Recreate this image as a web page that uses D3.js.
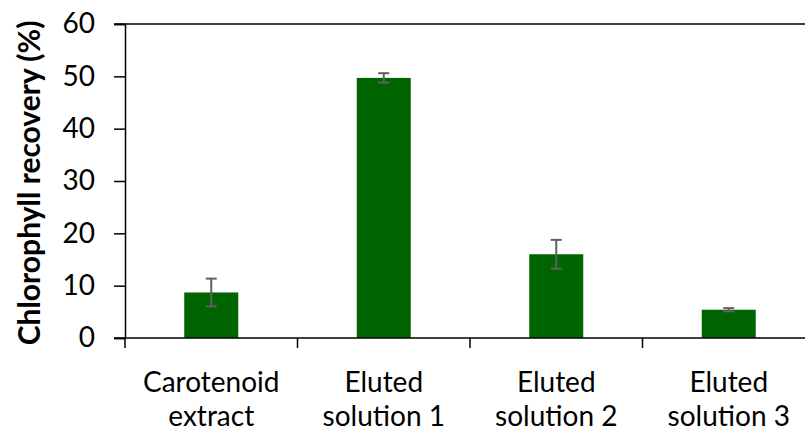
<!DOCTYPE html>
<html>
<head>
<meta charset="utf-8">
<script src="https://cdn.jsdelivr.net/npm/d3@7"></script>
<style>
  html, body { margin: 0; padding: 0; background: #fff; }
  svg { display: block; font-family: Lato, "Open Sans", sans-serif; }
</style>
</head>
<body>
<svg id="chart" width="805" height="432"></svg>
<script>
// Chlorophyll recovery per fraction (mean ± error)
const categories = [["Carotenoid", "extract"], ["Eluted", "solution 1"], ["Eluted", "solution 2"], ["Eluted", "solution 3"]];
const recovery = [8.7, 49.7, 16.0, 5.4];
const errors = [2.65, 0.9, 2.75, 0.3];
const yTicks = [0, 10, 20, 30, 40, 50, 60];

const svg = d3.select("#chart");
const plotLeft = 125, plotRight = 815, plotTop = 24, plotBottom = 338;

const x = d3.scaleBand()
  .domain(d3.range(categories.length))
  .range([plotLeft, plotRight])
  .paddingInner(0.687)
  .paddingOuter(0.3435);

const band = d3.scaleBand().domain(d3.range(categories.length)).range([plotLeft, plotRight]);

const y = d3.scaleLinear().domain([0, 60]).range([plotBottom, plotTop]);

// top border of the plot area
svg.append("line")
  .attr("x1", plotLeft - 11).attr("x2", 805)
  .attr("y1", y(60)).attr("y2", y(60))
  .attr("stroke", "#000").attr("stroke-width", 1.5);

// bars
svg.append("g").selectAll("rect")
  .data(recovery)
  .join("rect")
  .attr("x", (d, i) => x(i))
  .attr("width", x.bandwidth())
  .attr("y", d => y(d))
  .attr("height", d => y(0) - y(d))
  .attr("fill", "#006400");

// error bars
const eg = svg.append("g").attr("stroke", "#606060").attr("stroke-width", 2);
recovery.forEach((v, i) => {
  const cx = x(i) + x.bandwidth() / 2;
  const hi = y(v + errors[i]), lo = y(v - errors[i]);
  eg.append("line").attr("x1", cx).attr("x2", cx).attr("y1", hi).attr("y2", lo);
  eg.append("line").attr("x1", cx - 5.5).attr("x2", cx + 5.5).attr("y1", hi).attr("y2", hi);
  eg.append("line").attr("x1", cx - 5.5).attr("x2", cx + 5.5).attr("y1", lo).attr("y2", lo);
});

// y axis
const yAxis = svg.append("g")
  .attr("transform", `translate(${plotLeft},0)`)
  .call(d3.axisLeft(y).tickValues(yTicks).tickSize(11).tickPadding(19));
yAxis.select(".domain").attr("stroke", "#000").attr("stroke-width", 1.5);
yAxis.selectAll(".tick line").attr("stroke", "#000").attr("stroke-width", 1.5);
yAxis.selectAll(".tick text")
  .attr("fill", "#000")
  .style("font-size", "28px")
  .style("font-family", "Lato, sans-serif");

// x axis line with category separators
svg.append("line")
  .attr("x1", plotLeft - 11).attr("x2", 805)
  .attr("y1", y(0)).attr("y2", y(0))
  .attr("stroke", "#000").attr("stroke-width", 1.5);
const seps = d3.range(categories.length).map(i => band(i));
svg.append("g").selectAll("line")
  .data(seps)
  .join("line")
  .attr("x1", d => d).attr("x2", d => d)
  .attr("y1", y(0)).attr("y2", y(0) + 10)
  .attr("stroke", "#000").attr("stroke-width", 1.5);

// category labels
const labels = svg.append("g")
  .attr("font-size", "28px")
  .attr("fill", "#000")
  .attr("text-anchor", "middle");
categories.forEach((lines, i) => {
  const cx = band(i) + band.bandwidth() / 2;
  const t = labels.append("text").attr("x", cx).attr("y", 392);
  lines.forEach((s, k) => {
    t.append("tspan").attr("x", cx).attr("dy", k === 0 ? 0 : 34).text(s);
  });
});

// y axis title
svg.append("text")
  .attr("transform", `translate(28,${(plotTop + plotBottom) / 2 + 2}) rotate(-90)`)
  .attr("text-anchor", "middle")
  .attr("dominant-baseline", "central")
  .attr("font-size", "30px")
  .attr("font-weight", "bold")
  .attr("fill", "#000")
  .text("Chlorophyll recovery (%)");
</script>
</body>
</html>
